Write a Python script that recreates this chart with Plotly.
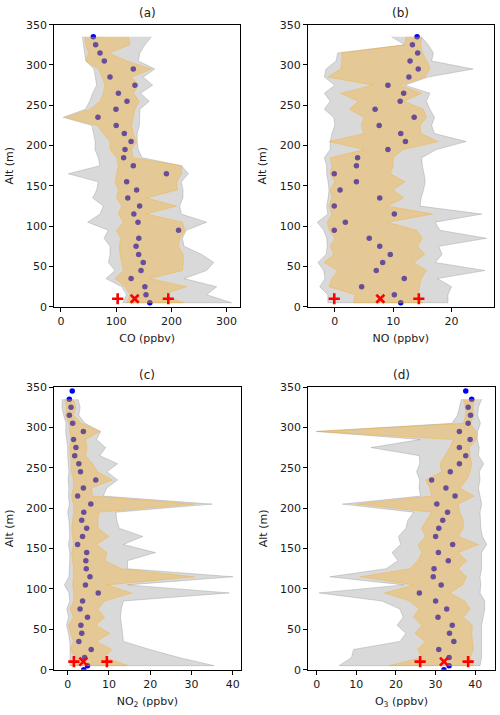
import plotly.graph_objects as go

# Altitude levels (m), listed from top to bottom
alt = [335, 325, 315, 305, 295, 285, 275, 265, 255, 245, 235, 225, 215, 205, 195, 185,
       175, 165, 155, 145, 135, 125, 115, 105, 95, 85, 75, 65, 55, 45, 35, 25, 15, 5]

# ---------------- (a) CO ----------------
co_dot = [58.6, 62.8, 70.7, 78.5, 131, 88.8, 134, 104, 119.6, 99.6, 67, 100, 114.7, 127, 116, 113.5,
          131, 191, 119, 137, 121, 142.5, 132, 139.5, 213, 141, 136, 140.7, 149, 145, 127, 152, 154, 161]
co_grey_lo = [38.7, 40.5, 42, 45, 59.8, 61.6, 64.6, 57.4, 52, 44, 4, 56, 59, 62, 61.6, 67.6,
              70.6, 13.3, 67.6, 64.6, 57.4, 76.7, 70.6, 48.3, 85.8, 78, 88.8, 88.8, 86, 97.8, 81.5, 110, 119, 111.7]
co_grey_hi = [164, 152, 143, 140, 170, 149, 166, 144, 160, 143, 142, 142, 138, 138, 140, 147,
              218.6, 230.7, 218, 221, 221, 215, 218, 264, 227, 220, 223, 255, 277, 263.6, 223, 282, 264, 309]
co_tan_lo = [43, 45, 50, 45, 68, 74.8, 79.7, 76.7, 70.7, 52.5, 9, 65.8, 76.7, 88.8, 88.8, 100.8,
             104, 100.8, 97.8, 104, 100.8, 110, 104, 113, 100.8, 108, 105.7, 107, 110, 113, 97.8, 116, 125, 119]
co_tan_hi = [122, 125, 87, 119, 164, 128, 140, 131, 142, 134, 131, 128, 131, 137, 128, 131,
             218.6, 218.6, 209.5, 210.7, 155, 209.5, 155, 220, 224.6, 215.6, 212.6, 221.6, 221.6, 220, 161, 227.6, 185, 221.6]
co_ref = [102.7, 133.5, 194.4]

# ---------------- (b) NO ----------------
no_dot = [14.1, 13.3, 14.2, 12.9, 14.3, 12.7, 9.1, 11.8, 11.2, 6.9, 13.6, 7.6, 11.3, 12.1, 9.1, 3.9,
          3.7, -0.1, 3.7, 0.9, 7.7, -0.1, 10.2, 1.8, -0.1, 5.9, 7.7, 9.5, 8.2, 7.1, 11.9, 4.6, 10.2, 11.3]
no_grey_lo = [9.7, 12, 0.5, 0.2, -1.5, -1.8, 0, -1.8, -0.8, -1.8, -0.2, 0, -0.5, -0.8, -0.8, -1.8,
              -1.4, -1.4, -1.15, -1.0, -1.15, -1.4, -1.2, -3.0, -1.9, -1.4, -1.3, -1.5, -2.9, -1.9, -1.7, -2.6, -1.2, -1.2]
no_grey_hi = [14.8, 16.0, 16.9, 16.6, 23.7, 16.0, 12.0, 16.3, 15.7, 16.3, 17.1, 16.6, 17.1, 22.5, 17.4, 14.9,
              15.0, 15.3, 15.5, 15.2, 14.8, 14.6, 25.2, 17.2, 18.0, 26.0, 17.8, 18.4, 17.2, 25.7, 17.6, 20.0, 19.4, 19.4]
no_tan_lo = [12.2, 12.0, 1.2, 1.2, 1.0, -1.2, 6.5, 1.0, 4.0, 2.5, 5.0, 4.5, 5.0, -1.0, 5.0, -0.8,
             -0.5, -0.8, 0.0, -0.8, -0.5, -1.0, -0.5, -1.3, -1.0, 0.0, -0.8, -0.2, -1.8, 0.5, -0.5, -1.0, 3.5, 3.2]
no_tan_hi = [14.9, 14.7, 15.0, 15.8, 16.3, 15.5, 11.1, 14.9, 11.9, 15.2, 15.7, 14.6, 14.8, 17.7, 11.7, 10.0,
             10.0, 9.5, 12.0, 10.0, 11.8, 9.0, 16.8, 9.0, 14.0, 15.0, 14.2, 15.4, 13.5, 15.7, 14.8, 14.5, 14.3, 15.0]
no_ref = [-0.1, 7.8, 14.4]

# ---------------- (c) NO2 ----------------
no2_dot = [0.4, 0.8, 0.4, 1.2, 3.8, 1.4, 2.0, 1.7, 2.7, 3.1, 6.8, 3.8, 2.4, 5.6, 3.9, 3.4,
           4.6, 3.6, 2.4, 4.6, 4.4, 4.5, 5.4, 4.3, 7.4, 3.6, 3.0, 4.8, 3.2, 3.4, 2.7, 5.7, 4.1, 4.8]
no2_extra_alt = [345, 0]
no2_extra = [1.1, 3.9]
no2_grey_lo = [-1.3, -1.4, -1.0, -0.4, -0.5, -0.2, 0, 0, 0.1, 0.3, 0.1, 0.3, 0.2, 0.4, 0, 0.3,
               0.4, 0.5, 0.2, 0.5, 0.5, 0.4, 0.3, -0.8, 0.3, 0.5, -0.2, 0.2, -0.3, 0.2, 0.5, 0.6, 0.5, 0.5]
no2_grey_hi = [2.5, 3.0, 2.7, 4.2, 8.0, 7.0, 9.2, 7.8, 12.1, 9.5, 12.1, 9.5, 8.6, 35.0, 11.7, 11.9,
               12.5, 18.2, 13.5, 21.3, 14.5, 14.5, 40.1, 14.5, 39.2, 13.5, 13.0, 12.8, 13.0, 13.3, 13.5, 19.9, 27.0, 35.5]
no2_tan_lo = [-0.7, -0.3, -0.5, 0.3, 0.5, 0.9, 0.5, 0.7, 0.9, 0.9, 1.4, 1.4, 0.9, 1.4, 1.5, 1.2,
              0.95, 1.2, 1.4, 0.95, 1.2, 1.4, 1.4, 1.2, 1.5, 1.4, 0.6, 1.4, 0.2, 0.7, 1.4, 0.6, 1.8, 0.8]
no2_tan_hi = [1.4, 2.0, 1.4, 3.3, 7.8, 4.3, 4.7, 4.3, 6.0, 7.2, 10.8, 5.8, 6.0, 30.7, 7.6, 7.3,
              7.4, 10.0, 7.0, 9.5, 9.0, 13.0, 30.7, 9.5, 15.5, 9.0, 7.3, 8.9, 6.8, 10.2, 7.0, 10.6, 9.0, 14.7]
no2_ref = [1.5, 3.8, 9.5]

# ---------------- (d) O3 ----------------
o3_dot = [39.1, 38.2, 38.8, 38.2, 36.0, 38.7, 36.0, 37.6, 36.0, 33.7, 29.0, 32.6, 34.9, 30.3, 33.0, 31.8,
          30.8, 30.0, 34.3, 30.7, 33.2, 29.6, 29.4, 31.4, 25.9, 30.0, 32.8, 30.6, 34.2, 33.5, 34.6, 30.8, 33.4, 33.4]
o3_extra_alt = [345, 0]
o3_extra = [37.6, 32.1]
o3_grey_lo = [36.5, 36.0, 35.5, 34.1, -0.1, 26.1, 13.7, 25.9, 26, 25.2, 26, 25.8, 26.2, 6.5, 24.5, 23,
              22.5, 20.6, 21.2, 19.0, 20.5, 17.5, 3.3, 22, 0.6, 16.5, 21.0, 21.8, 20.3, 22.5, 21.0, 9.3, 8.8, 5.7]
o3_grey_hi = [41.6, 40.8, 40.6, 41.3, 40.6, 40.5, 41, 40.8, 42.1, 41, 41.2, 40.8, 41.2, 41.6, 41.2, 41.3,
              41.4, 41.8, 42.9, 41.6, 41.6, 41.6, 41.2, 41.4, 41.2, 42.4, 42.4, 42, 41.6, 41.6, 41.6, 41.6, 41.6, 41.2]
o3_tan_lo = [37, 37.5, 37.6, 37, 0, 34.5, 33.6, 32.4, 31.1, 31.5, 27.5, 28.6, 29, 10.1, 29, 27.7,
             26.5, 27.5, 25.6, 26.5, 25.5, 23.5, 11.0, 24.4, 17.1, 23.5, 25.8, 24.4, 26.5, 24.8, 27.3, 25.5, 26.5, 18.3]
o3_tan_hi = [39.9, 39.3, 39.7, 38.7, 40.2, 40.3, 38.5, 38.7, 39.1, 38.7, 37.8, 36.1, 39.7, 35.7, 36.1, 37,
             37, 35.7, 40.8, 35.7, 37.8, 35.7, 37.8, 36.8, 33.6, 37.4, 38.7, 37, 39.3, 39.1, 39.3, 39.5, 38.7, 39.5]
o3_ref = [26.1, 32.1, 38.2]

ref_alt = 10

panels = [
    dict(title="(a)", xtitle="CO (ppbv)", dot=co_dot, ex_alt=[], ex=[],
         glo=co_grey_lo, ghi=co_grey_hi, tlo=co_tan_lo, thi=co_tan_hi, ref=co_ref,
         xrange=[-12.1, 324.3], xticks=[0, 100, 200, 300],
         xdom=[0.1086, 0.480], ydom=[0.5709, 0.9655]),
    dict(title="(b)", xtitle="NO (ppbv)", dot=no_dot, ex_alt=[], ex=[],
         glo=no_grey_lo, ghi=no_grey_hi, tlo=no_tan_lo, thi=no_tan_hi, ref=no_ref,
         xrange=[-4.6, 27.2], xticks=[0, 10, 20],
         xdom=[0.616, 0.987], ydom=[0.5709, 0.9655]),
    dict(title="(c)", xtitle="NO<sub>2</sub> (ppbv)", dot=no2_dot, ex_alt=no2_extra_alt, ex=no2_extra,
         glo=no2_grey_lo, ghi=no2_grey_hi, tlo=no2_tan_lo, thi=no2_tan_hi, ref=no2_ref,
         xrange=[-3.25, 41.9], xticks=[0, 10, 20, 30, 40],
         xdom=[0.1086, 0.481], ydom=[0.0634, 0.4587]),
    dict(title="(d)", xtitle="O<sub>3</sub> (ppbv)", dot=o3_dot, ex_alt=o3_extra_alt, ex=o3_extra,
         glo=o3_grey_lo, ghi=o3_grey_hi, tlo=o3_tan_lo, thi=o3_tan_hi, ref=o3_ref,
         xrange=[-2.1, 44.9], xticks=[0, 10, 20, 30, 40],
         xdom=[0.6166, 0.9894], ydom=[0.0634, 0.4587]),
]

FONT = "DejaVu Sans"
fig = go.Figure()
layout = dict(width=500, height=715, margin=dict(l=0, r=0, t=0, b=0, autoexpand=False),
              plot_bgcolor="white", paper_bgcolor="white", showlegend=False,
              hovermode=False,
              font=dict(family=FONT, size=11, color="#1a1a1a"))
annotations = []

for i, p in enumerate(panels):
    n = "" if i == 0 else str(i + 1)
    xa, ya = "x" + n, "y" + n
    # dots (blue, tinted by the translucent bands drawn over them)
    fig.add_trace(go.Scatter(x=p["dot"] + p["ex"], y=alt + p["ex_alt"], mode="markers",
                             marker=dict(color="blue", size=5.5, line=dict(width=0)),
                             xaxis=xa, yaxis=ya, hoverinfo="skip"))
    # grey band
    fig.add_trace(go.Scatter(x=p["glo"] + p["ghi"][::-1], y=alt + alt[::-1], mode="lines",
                             fill="toself", fillcolor="rgba(128,128,128,0.3)",
                             line=dict(color="rgba(128,128,128,0.3)", width=1),
                             xaxis=xa, yaxis=ya, hoverinfo="skip"))
    # tan band
    fig.add_trace(go.Scatter(x=p["tlo"] + p["thi"][::-1], y=alt + alt[::-1], mode="lines",
                             fill="toself", fillcolor="rgba(255,165,0,0.3)",
                             line=dict(color="rgba(255,165,0,0.3)", width=1),
                             xaxis=xa, yaxis=ya, hoverinfo="skip"))
    # red reference markers
    fig.add_trace(go.Scatter(x=[p["ref"][0], p["ref"][2]], y=[ref_alt, ref_alt], mode="markers",
                             marker=dict(symbol="cross-thin", size=8, color="red",
                                         line=dict(color="red", width=2.6)),
                             xaxis=xa, yaxis=ya, hoverinfo="skip", cliponaxis=False))
    fig.add_trace(go.Scatter(x=[p["ref"][1]], y=[ref_alt], mode="markers",
                             marker=dict(symbol="x-thin", size=8, color="red",
                                         line=dict(color="red", width=2.6)),
                             xaxis=xa, yaxis=ya, hoverinfo="skip", cliponaxis=False))

    axis_common = dict(showline=True, mirror=True, linecolor="black", linewidth=1,
                       ticks="outside", ticklen=4, tickwidth=1, tickcolor="black",
                       showgrid=False, zeroline=False, automargin=False,
                       tickfont=dict(family=FONT, size=11, color="#1a1a1a"))
    layout["xaxis" + n] = dict(domain=p["xdom"], range=p["xrange"], tickvals=p["xticks"],
                               anchor=ya, title=dict(text=p["xtitle"], standoff=7,
                                                     font=dict(family=FONT, size=11)),
                               **axis_common)
    layout["yaxis" + n] = dict(domain=p["ydom"], range=[0, 350],
                               tickvals=[0, 50, 100, 150, 200, 250, 300, 350],
                               anchor=xa, title=dict(text="Alt (m)", standoff=10,
                                                     font=dict(family=FONT, size=11)),
                               **axis_common)
    annotations.append(dict(text=p["title"], x=(p["xdom"][0] + p["xdom"][1]) / 2,
                            y=p["ydom"][1] + 0.004, xref="paper", yref="paper",
                            xanchor="center", yanchor="bottom", showarrow=False,
                            font=dict(family=FONT, size=12, color="#1a1a1a")))

layout["annotations"] = annotations
fig.update_layout(**layout)
fig.write_html("out.html", config={"displayModeBar": False, "staticPlot": True},
               post_script="document.body.style.margin='0px';")
